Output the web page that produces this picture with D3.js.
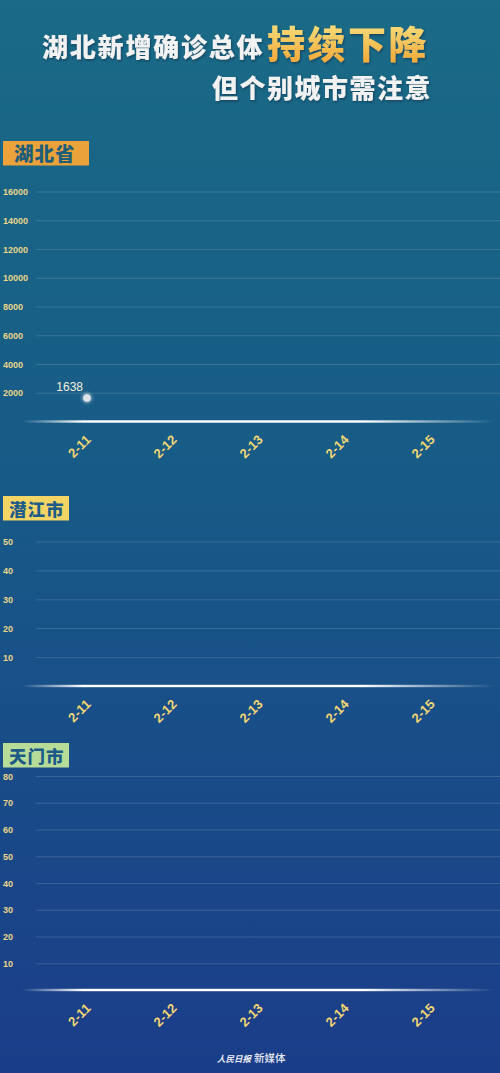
<!DOCTYPE html>
<html>
<head>
<meta charset="utf-8">
<script src="https://cdn.jsdelivr.net/npm/d3@7"></script>
<style>
  html, body { margin: 0; padding: 0; background: #183f86; }
  svg { display: block; }
</style>
</head>
<body>
<svg id="chart" width="500" height="1073"></svg>
<script>
// data
const dates = ["2-11", "2-12", "2-13", "2-14", "2-15"]
const hubeiValues = [1638]
const qianjiangValues = []
const tianmenValues = []
const hubeiTicks = [2000, 4000, 6000, 8000, 10000, 12000, 14000, 16000]
const qianjiangTicks = [10, 20, 30, 40, 50]
const tianmenTicks = [10, 20, 30, 40, 50, 60, 70, 80]

const W = 500, H = 1073
const svg = d3.select("#chart")
const defs = svg.append("defs")

// background
const bg = defs.append("linearGradient").attr("id", "bg")
  .attr("x1", 0).attr("y1", 0).attr("x2", 0).attr("y2", 1)
bg.append("stop").attr("offset", "0%").attr("stop-color", "#1a6b86")
bg.append("stop").attr("offset", "45%").attr("stop-color", "#175a87")
bg.append("stop").attr("offset", "100%").attr("stop-color", "#1b3d89")
svg.append("rect").attr("width", W).attr("height", H).attr("fill", "url(#bg)")

// baseline glow
const base = defs.append("linearGradient").attr("id", "baseGrad")
  .attr("gradientUnits", "userSpaceOnUse").attr("x1", 22).attr("x2", 495).attr("y1", 0).attr("y2", 0)
base.append("stop").attr("offset", "0%").attr("stop-color", "#fff").attr("stop-opacity", 0)
base.append("stop").attr("offset", "13%").attr("stop-color", "#fff").attr("stop-opacity", 1)
base.append("stop").attr("offset", "72%").attr("stop-color", "#fff").attr("stop-opacity", 1)
base.append("stop").attr("offset", "100%").attr("stop-color", "#fff").attr("stop-opacity", 0)

const titleGrad = defs.append("linearGradient").attr("id", "titleGrad")
  .attr("x1", 0).attr("y1", 0).attr("x2", 0).attr("y2", 1)
titleGrad.append("stop").attr("offset", "0%").attr("stop-color", "#f8ea8c")
titleGrad.append("stop").attr("offset", "100%").attr("stop-color", "#f0a12e")

const shadow = defs.append("filter").attr("id", "shadow")
shadow.append("feDropShadow").attr("dx", 1).attr("dy", 1.5).attr("stdDeviation", 0.8)
  .attr("flood-color", "#0a2f48").attr("flood-opacity", 0.6)

const glow = defs.append("filter").attr("id", "glow")
  .attr("x", "-100%").attr("y", "-100%").attr("width", "300%").attr("height", "300%")
glow.append("feGaussianBlur").attr("stdDeviation", 1.5)

const cjk = "'Noto Sans CJK SC', 'Noto Sans', sans-serif"
const num = "'Liberation Sans', Arial, sans-serif"

// title
const title = svg.append("g").attr("filter", "url(#shadow)")
  .style("font-family", cjk).style("font-weight", 900)
title.append("text").attr("x", 42).attr("y", 57)
  .attr("font-size", 26).attr("letter-spacing", 1.8).attr("fill", "#f2f2f2")
  .text("湖北新增确诊总体")
title.append("text").attr("x", 267).attr("y", 58)
  .attr("font-size", 38).attr("letter-spacing", 2.5).attr("fill", "url(#titleGrad)")
  .text("持续下降")
title.append("text").attr("x", 212).attr("y", 98)
  .attr("font-size", 26).attr("letter-spacing", 1.5).attr("fill", "#f2f2f2")
  .text("但个别城市需注意")

const x = d3.scalePoint().domain(dates).range([87, 431])

const panels = [
  { name: "湖北省", box: "#eba23a", ink: "#1d5e7b", top: 141, y0: 421.5, y1: 191.5, max: 16000, ticks: hubeiTicks, values: hubeiValues },
  { name: "潜江市", box: "#f2d565", ink: "#1d5b88", top: 496, y0: 686, y1: 541.5, max: 50, ticks: qianjiangTicks, values: qianjiangValues },
  { name: "天门市", box: "#b6dc98", ink: "#1d5a88", top: 743, y0: 990, y1: 776, max: 80, ticks: tianmenTicks, values: tianmenValues }
]

panels.forEach(p => {
  const g = svg.append("g")

  // badge
  g.append("rect").attr("x", 3).attr("y", p.top).attr("width", p.name === "湖北省" ? 86 : 66)
    .attr("height", 24.5).attr("fill", p.box)
  g.append("text").attr("x", p.name === "湖北省" ? 14 : 9).attr("y", p.top + 19.5)
    .style("font-family", cjk).style("font-weight", 900)
    .attr("font-size", p.name === "湖北省" ? 19.5 : 17.5).attr("letter-spacing", 1)
    .attr("fill", p.ink).text(p.name)

  const y = d3.scaleLinear().domain([0, p.max]).range([p.y0, p.y1])

  // y axis + grid
  const ya = g.append("g").attr("transform", "translate(36,0)")
    .call(d3.axisLeft(y).tickValues(p.ticks).tickSize(-(W - 36)).tickFormat(d3.format("d")))
  ya.select(".domain").remove()
  ya.selectAll(".tick line").attr("stroke", "#ffffff").attr("stroke-opacity", 0.14)
  ya.selectAll(".tick text").attr("x", -33).attr("text-anchor", "start").attr("dy", "0.35em")
    .attr("fill", "#ead58a").style("font-family", num).style("font-weight", 700)
    .attr("font-size", 9)

  // baseline
  g.append("rect").attr("x", 22).attr("y", p.y0 - 1.2).attr("width", W - 22).attr("height", 2.4)
    .attr("fill", "url(#baseGrad)")

  // x axis
  const xa = g.append("g").attr("transform", `translate(0,${p.y0})`)
    .call(d3.axisBottom(x).tickSize(0))
  xa.select(".domain").remove()
  xa.selectAll(".tick text")
    .attr("text-anchor", "end").attr("y", 0).attr("dy", 0)
    .attr("transform", "translate(4,19) rotate(-45)")
    .attr("fill", "#f3d873").style("font-family", num).style("font-weight", 700)
    .attr("font-size", 13)

  // points
  const pts = g.append("g")
  pts.selectAll("circle.glow").data(p.values).join("circle").attr("class", "glow")
    .attr("cx", (d, i) => x(dates[i])).attr("cy", d => y(d)).attr("r", 5)
    .attr("fill", "#ffffff").attr("opacity", 0.5).attr("filter", "url(#glow)")
  pts.selectAll("circle.dot").data(p.values).join("circle").attr("class", "dot")
    .attr("cx", (d, i) => x(dates[i])).attr("cy", d => y(d)).attr("r", 3.8)
    .attr("fill", "#dfe3ea")
  pts.selectAll("text").data(p.values).join("text")
    .attr("x", (d, i) => x(dates[i]) - 4).attr("y", d => y(d) - 7)
    .attr("text-anchor", "end").attr("fill", "#f3eedb")
    .style("font-family", num).attr("font-size", 12)
    .text(d => d)
})

// footer
const foot = svg.append("g").attr("fill", "#e8ecf4")
foot.append("text").attr("x", 217).attr("y", 1062)
  .style("font-family", cjk).style("font-style", "italic").style("font-weight", 700)
  .attr("font-size", 8.5).text("人民日报")
foot.append("text").attr("x", 254).attr("y", 1062)
  .style("font-family", cjk).style("font-weight", 500)
  .attr("font-size", 10.5).text("新媒体")
</script>
</body>
</html>
